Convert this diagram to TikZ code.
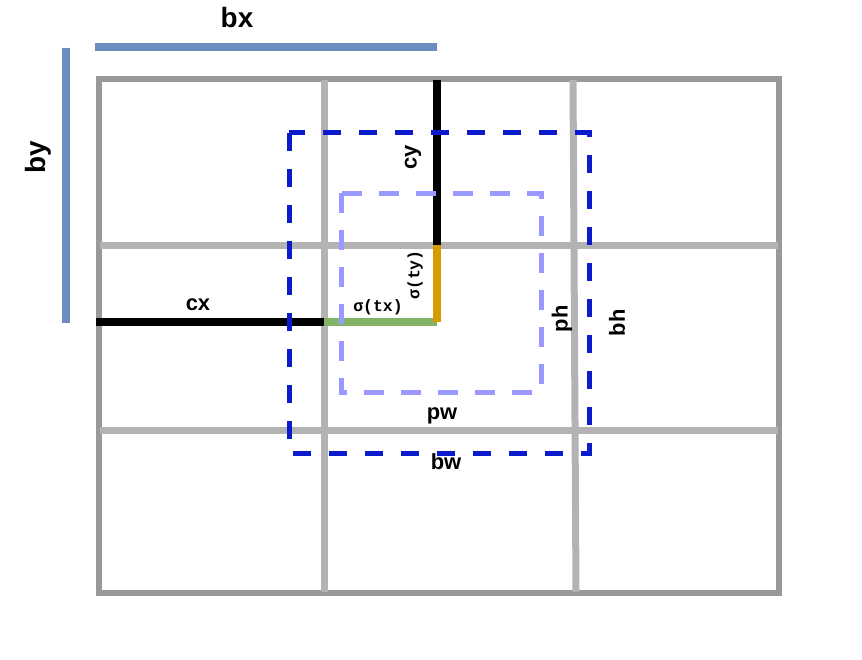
\documentclass[tikz,border=0pt]{standalone}
\usepackage{fontspec}
\setmainfont{Liberation Sans}
\setmonofont{Liberation Mono}
\usetikzlibrary{positioning}
\definecolor{GridDark}{HTML}{999999}
\definecolor{GridLight}{HTML}{B3B3B3}
\definecolor{BarBlue}{HTML}{6C8EBF}
\definecolor{OffGreen}{HTML}{82B366}
\definecolor{OffOrange}{HTML}{D79B00}
\definecolor{BoxBlue}{HTML}{0A1ACC}
\definecolor{PriorBlue}{HTML}{9999FF}

\begin{document}
\begin{tikzpicture}[
    x=1bp, y=-1bp,
    frame/.style={draw=GridDark, line width=6bp},
    cell/.style={draw=GridLight, line width=7bp},
    bar/.style={draw=BarBlue, line width=8bp},
    offset/.style={line width=8bp},
    prior/.style={draw=PriorBlue, line width=5bp, dash pattern=on 20bp off 17bp},
    pred/.style={draw=BoxBlue, line width=5bp, dash pattern=on 18bp off 18bp},
    tag/.style={font=\fontsize{22}{22}\selectfont\bfseries, inner sep=0pt},
    bigtag/.style={font=\fontsize{28}{28}\selectfont\bfseries, inner sep=0pt},
    sigtag/.style={font=\fontsize{16.5}{16.5}\selectfont\ttfamily\bfseries, inner sep=0pt}
]
\useasboundingbox (0,0) rectangle (862,660);

% Grid of cells
\draw[frame] (99,79) rectangle (779,593);
\coordinate (v1t) at (324,80);  \coordinate (v1b) at (324,592);
\coordinate (v2t) at (573,80);  \coordinate (v2b) at (576,592);
\coordinate (h1l) at (100,245); \coordinate (h1r) at (778,245);
\coordinate (h2l) at (100,430); \coordinate (h2r) at (778,430);
\draw[cell] (v1t) -- (v1b);
\draw[cell] (v2t) -- (v2b);
\draw[cell] (h1l) -- (h1r);
\draw[cell] (h2l) -- (h2r);

% Cell offset bars
\coordinate (bxl) at (95,47);  \coordinate (bxr) at (437,47);
\coordinate (byt) at (66,48);  \coordinate (byb) at (66,323);
\draw[bar] (bxl) -- (bxr);
\draw[bar] (byt) -- (byb);
\node[bigtag] (bx) at (237,18) {bx};
\node[bigtag, rotate=90] (by) at (38,157) {by};

% Cell corner and predicted offsets
\coordinate (cxl) at (96,322);   \coordinate (corner) at (324,322);
\coordinate (cyt) at (437,80);   \coordinate (cyb) at (437,245);
\coordinate (centre) at (437,322);
\draw[offset, draw=black] (cxl) -- (corner);
\draw[offset, draw=black] (cyt) -- (cyb);
\draw[offset, draw=OffGreen] (corner) -- (centre);
\draw[offset, draw=OffOrange] (cyb) -- (centre);
\node[tag] (cx) at (198,305) {cx};
\node[tag, rotate=90] (cy) at (413,157) {cy};
\node[sigtag] (tx) at (378,307) {σ(tx)};
\node[sigtag, rotate=90] (ty) at (415,275) {σ(ty)};

% Prior and predicted boxes
\draw[prior] (341,193) rectangle (541,392);
\draw[pred] (289,133) rectangle (589,453);
\node[tag, rotate=90] (ph) at (562,319) {ph};
\node[tag, rotate=90] (bh) at (617,323) {bh};
\node[tag] (pw) at (442,416) {pw};
\node[tag] (bw) at (446,462) {bw};

\end{tikzpicture}
\end{document}
